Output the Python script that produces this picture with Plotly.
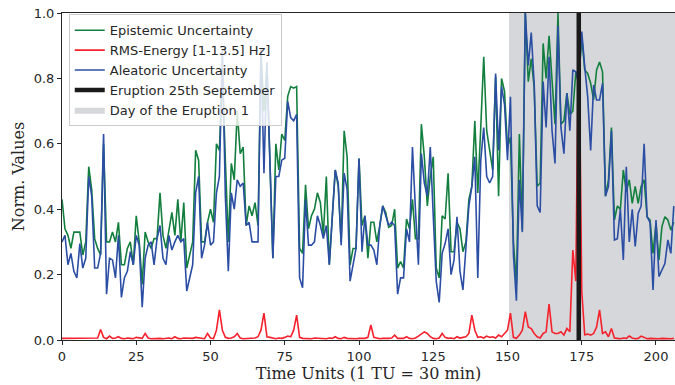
import plotly.graph_objects as go

# Normalised epistemic uncertainty per time unit
epistemic = [
    0.43, 0.34, 0.32, 0.28, 0.33, 0.33, 0.33, 0.26, 0.30, 0.53,
    0.46, 0.31, 0.28, 0.26, 0.60, 0.30, 0.30, 0.33, 0.30, 0.36,
    0.23, 0.23, 0.28, 0.30, 0.23, 0.38, 0.30, 0.17, 0.33, 0.30,
    0.28, 0.31, 0.31, 0.45, 0.32, 0.28, 0.33, 0.39, 0.32, 0.43,
    0.30, 0.42, 0.22, 0.26, 0.30, 0.58, 0.55, 0.30, 0.30, 0.36,
    0.40, 0.36, 0.60, 0.58, 0.82, 0.55, 0.30, 0.54, 0.49, 0.70,
    0.57, 0.59, 0.35, 0.41, 0.38, 0.42, 0.35, 0.88, 0.70, 0.84,
    0.57, 0.25, 0.60, 0.52, 0.63, 0.61, 0.745, 0.775, 0.77, 0.775,
    0.28, 0.265, 0.475, 0.34, 0.38, 0.40, 0.45, 0.42, 0.32, 0.50,
    0.23, 0.38, 0.52, 0.47, 0.30, 0.64, 0.56, 0.23, 0.28, 0.28,
    0.555, 0.35, 0.38, 0.25, 0.36, 0.36, 0.30, 0.35, 0.41, 0.39,
    0.345, 0.35, 0.40, 0.22, 0.24, 0.22, 0.37, 0.34, 0.43, 0.31,
    0.31, 0.66, 0.56, 0.41, 0.50, 0.56, 0.22, 0.19, 0.38, 0.37,
    0.51, 0.27, 0.27, 0.36, 0.34, 0.27, 0.30, 0.43, 0.47, 0.67,
    0.45, 0.65, 0.866, 0.64, 0.58, 0.52, 0.805, 0.44, 0.80, 0.76,
    0.59, 0.62, 0.30, 0.17, 0.63, 0.336, 1.0, 0.79, 0.86, 0.77,
    0.47, 0.48, 0.907, 0.80, 0.93, 0.78, 0.66, 1.0, 0.66, 0.67,
    0.755, 0.69, 0.70, 0.82, 0.80, 0.93, 0.826, 0.815, 0.785, 0.734,
    0.826, 0.85, 0.82, 0.44, 0.49, 0.65, 0.367, 0.41, 0.40, 0.52,
    0.454, 0.49, 0.418, 0.47, 0.418, 0.47, 0.49, 0.377, 0.367, 0.265,
    0.357, 0.245, 0.347, 0.377, 0.367, 0.336, 0.36,
]

# Normalised aleatoric uncertainty per time unit
aleatoric = [
    0.30, 0.32, 0.23, 0.265, 0.21, 0.19, 0.295, 0.22, 0.25, 0.50,
    0.44, 0.22, 0.22, 0.265, 0.63, 0.14, 0.25, 0.245, 0.19, 0.32,
    0.13, 0.19, 0.21, 0.27, 0.23, 0.32, 0.29, 0.10, 0.25, 0.29,
    0.30, 0.23, 0.31, 0.35, 0.25, 0.23, 0.32, 0.275, 0.30, 0.32,
    0.30, 0.31, 0.15, 0.19, 0.23, 0.45, 0.50, 0.25, 0.29, 0.36,
    0.29, 0.30, 0.45, 0.50, 0.89, 0.44, 0.21, 0.45, 0.40, 0.49,
    0.47, 0.48, 0.35, 0.36, 0.30, 0.30, 0.30, 0.89, 0.51, 0.85,
    0.56, 0.25, 0.50, 0.50, 0.55, 0.556, 0.73, 0.68, 0.67, 0.69,
    0.19, 0.16, 0.43, 0.29, 0.29, 0.30, 0.38, 0.35, 0.31, 0.35,
    0.23, 0.36, 0.52, 0.48, 0.29, 0.51, 0.46, 0.18, 0.23, 0.28,
    0.555, 0.27, 0.38, 0.29, 0.29, 0.275, 0.23, 0.35, 0.41, 0.38,
    0.35, 0.36, 0.35, 0.14, 0.19, 0.19, 0.34, 0.30, 0.59, 0.40,
    0.23, 0.57, 0.48, 0.44, 0.59, 0.38, 0.18, 0.115, 0.265, 0.295,
    0.34, 0.20, 0.245, 0.377, 0.21, 0.153, 0.30, 0.41, 0.47, 0.56,
    0.19, 0.55, 0.65, 0.50, 0.48, 0.50, 0.815, 0.58, 0.775, 0.72,
    0.55, 0.744, 0.26, 0.12, 0.49, 0.33, 1.0, 0.84, 0.94, 0.78,
    0.41, 0.39, 0.79, 0.65, 0.866, 0.64, 0.54, 0.96, 0.65, 0.57,
    0.755, 0.64, 0.826, 0.82, 0.78, 0.943, 0.836, 0.744, 0.58, 0.78,
    0.734, 0.734, 0.785, 0.44, 0.47, 0.64, 0.306, 0.31, 0.40, 0.245,
    0.53, 0.30, 0.40, 0.286, 0.387, 0.41, 0.60, 0.377, 0.36, 0.153,
    0.367, 0.194, 0.214, 0.234, 0.306, 0.265, 0.41,
]

# Normalised RMS energy in the 1-13.5 Hz band
rms_energy = [
    0.005, 0.005, 0.004, 0.005, 0.004, 0.005, 0.005, 0.004, 0.005, 0.005,
    0.004, 0.005, 0.006, 0.032, 0.008, 0.004, 0.012, 0.005, 0.006, 0.010,
    0.005, 0.004, 0.006, 0.005, 0.004, 0.008, 0.006, 0.005, 0.020, 0.006,
    0.004, 0.005, 0.004, 0.005, 0.004, 0.005, 0.006, 0.004, 0.010, 0.005,
    0.004, 0.006, 0.005, 0.004, 0.005, 0.008, 0.006, 0.005, 0.004, 0.020,
    0.006, 0.004, 0.030, 0.092, 0.030, 0.008, 0.005, 0.006, 0.010, 0.020,
    0.006, 0.004, 0.005, 0.004, 0.005, 0.006, 0.010, 0.030, 0.082, 0.010,
    0.008, 0.005, 0.004, 0.006, 0.005, 0.008, 0.012, 0.010, 0.030, 0.076,
    0.008, 0.005, 0.004, 0.005, 0.004, 0.006, 0.005, 0.004, 0.005, 0.004,
    0.006, 0.005, 0.010, 0.005, 0.004, 0.008, 0.005, 0.004, 0.005, 0.004,
    0.005, 0.004, 0.005, 0.008, 0.046, 0.008, 0.005, 0.004, 0.005, 0.004,
    0.005, 0.006, 0.015, 0.005, 0.004, 0.005, 0.010, 0.005, 0.004, 0.006,
    0.012, 0.020, 0.025, 0.020, 0.010, 0.005, 0.004, 0.006, 0.020, 0.008,
    0.005, 0.006, 0.004, 0.010, 0.006, 0.008, 0.010, 0.020, 0.076, 0.030,
    0.008, 0.010, 0.006, 0.012, 0.008, 0.010, 0.006, 0.015, 0.010, 0.020,
    0.030, 0.082, 0.008, 0.005, 0.015, 0.030, 0.087, 0.040, 0.035, 0.020,
    0.010, 0.006, 0.020, 0.025, 0.110, 0.025, 0.020, 0.020, 0.025, 0.015,
    0.035, 0.025, 0.275, 0.180, 1.000, 0.150, 0.016, 0.018, 0.015, 0.020,
    0.040, 0.092, 0.020, 0.025, 0.010, 0.035, 0.006, 0.005, 0.004, 0.006,
    0.005, 0.012, 0.006, 0.004, 0.005, 0.012, 0.008, 0.004, 0.005, 0.004,
    0.005, 0.004, 0.005, 0.004, 0.005, 0.004, 0.005,
]

time_units = list(range(len(epistemic)))

eruption_tu = 174
eruption_day = [150.5, 207]
x_ticks = [0, 25, 50, 75, 100, 125, 150, 175, 200]
y_ticks = [0.0, 0.2, 0.4, 0.6, 0.8, 1.0]

GREEN = "#137f3e"
RED = "#f5222d"
BLUE = "#2b4ea4"
SPAN = "#d5d7da"

fig = go.Figure()

# shaded day of the eruption (drawn first so it sits behind the curves)
fig.add_trace(go.Scatter(
    x=[eruption_day[0], eruption_day[1], eruption_day[1], eruption_day[0], eruption_day[0]],
    y=[0, 0, 1, 1, 0],
    fill="toself", fillcolor=SPAN, mode="lines", line=dict(width=0, color=SPAN),
    name="Day of the Eruption 1", legendrank=5, hoverinfo="skip",
))

fig.add_trace(go.Scatter(x=time_units, y=epistemic, mode="lines",
                         line=dict(color=GREEN, width=1.6),
                         name="Epistemic Uncertainty", legendrank=1))
fig.add_trace(go.Scatter(x=time_units, y=rms_energy, mode="lines",
                         line=dict(color=RED, width=1.6),
                         name="RMS-Energy [1-13.5] Hz]", legendrank=2))
fig.add_trace(go.Scatter(x=time_units, y=aleatoric, mode="lines",
                         line=dict(color=BLUE, width=1.6),
                         name="Aleatoric Uncertainty", legendrank=3))

# eruption marker
fig.add_trace(go.Scatter(x=[eruption_tu, eruption_tu], y=[0, 1], mode="lines",
                         line=dict(color="#1a1a1a", width=4.5),
                         name="Eruption 25th September", legendrank=4))

tick_font = dict(family="DejaVu Sans", size=13, color="#262626")
title_font = dict(family="DejaVu Serif", size=16, color="#262626")

fig.update_layout(
    width=675, height=385,
    margin=dict(l=62, r=0, t=13, b=45),
    plot_bgcolor="white", paper_bgcolor="white",
    showlegend=True,
    legend=dict(
        x=0.011, y=0.996, xanchor="left", yanchor="top",
        bgcolor="rgba(255,255,255,0.82)", bordercolor="#cccccc", borderwidth=1,
        font=dict(family="DejaVu Sans", size=13, color="#262626"),
        tracegroupgap=0, itemwidth=30,
    ),
    xaxis=dict(
        range=[0, 206.4], tickvals=x_ticks, ticks="outside", ticklen=4,
        tickcolor="#262626", showgrid=False, zeroline=False,
        showline=True, linecolor="#262626", linewidth=1, mirror=True,
        tickfont=tick_font,
        title=dict(text="Time Units (1 TU = 30 min)", font=title_font, standoff=5),
    ),
    yaxis=dict(
        range=[0, 1], tickvals=y_ticks, tickformat=".1f", ticks="outside", ticklen=4,
        tickcolor="#262626", showgrid=False, zeroline=False,
        showline=True, linecolor="#262626", linewidth=1,
        tickfont=tick_font,
        title=dict(text="Norm. Values", font=title_font, standoff=5),
    ),
)

fig.write_html("out.html")
